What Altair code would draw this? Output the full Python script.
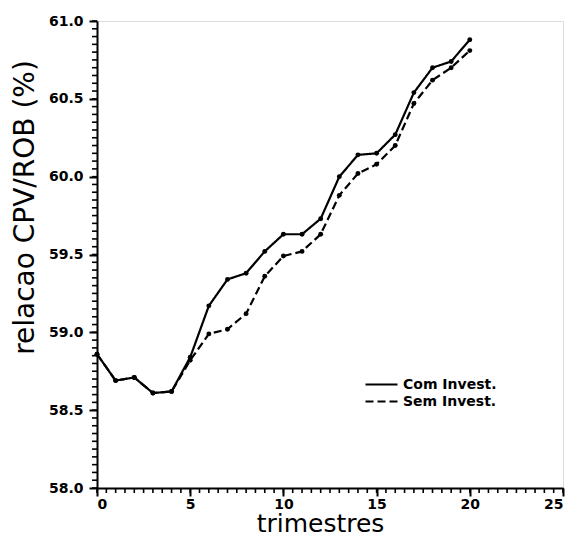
import altair as alt
import pandas as pd

trimestres = list(range(21))
com_invest = [58.86, 58.69, 58.71, 58.61, 58.62, 58.84, 59.17, 59.34, 59.38, 59.52,
              59.63, 59.63, 59.73, 60.00, 60.14, 60.15, 60.27, 60.54, 60.70, 60.74, 60.88]
sem_invest = [58.86, 58.69, 58.71, 58.61, 58.62, 58.82, 58.99, 59.02, 59.12, 59.36,
              59.49, 59.52, 59.63, 59.88, 60.02, 60.08, 60.20, 60.47, 60.62, 60.70, 60.81]
series_names = ["Com  Invest.", "Sem  Invest."]

x_major = [0, 5, 10, 15, 20, 25]
x_minor = [i * 0.5 for i in range(51)]
y_major = [58.0, 58.5, 59.0, 59.5, 60.0, 60.5, 61.0]
y_minor = [round(58 + i * 0.05, 2) for i in range(61)]

X_TITLE = "trimestres"
Y_TITLE = "relacao    CPV/ROB    (%)"

rows = []
for t, a, b in zip(trimestres, com_invest, sem_invest):
    rows.append({"t": t, "v": a, "s": series_names[0]})
    rows.append({"t": t, "v": b, "s": series_names[1]})
df = pd.DataFrame(rows)

FONT = "DejaVu Sans"

W, H = 466, 467
xscale = alt.Scale(domain=[0, 25], nice=False, zero=False)
yscale = alt.Scale(domain=[58, 61], nice=False, zero=False)

xaxis = alt.Axis(orient="bottom", values=x_major, format="d", ticks=True,
                 tickSize=8, tickWidth=2, tickColor="black", tickOpacity=1,
                 domainWidth=2, domainColor="black", zindex=1,
                 labelFont=FONT, labelFontWeight="bold", labelFontSize=14,
                 labelColor="black", labelPadding=1, grid=False,
                 titleFont=FONT, titleFontSize=25, titleFontWeight="normal",
                 titleColor="black", titleBaseline="alphabetic", titleX=223, titleY=43)
yaxis = alt.Axis(orient="left", values=y_major, format=".1f", ticks=True,
                 tickSize=8, tickWidth=2, tickColor="black", tickOpacity=1,
                 domainWidth=2, domainColor="black", zindex=1,
                 labelFont=FONT, labelFontWeight="bold", labelFontSize=14,
                 labelColor="black", labelPadding=6, grid=False,
                 titleFont=FONT, titleFontSize=28, titleFontWeight="normal",
                 titleColor="black", titlePadding=9, titleY=186)

base = alt.Chart(df)

lines = base.mark_line(color="black", strokeWidth=2.2).encode(
    x=alt.X("t:Q", scale=xscale, title=X_TITLE, axis=xaxis),
    y=alt.Y("v:Q", scale=yscale, title=Y_TITLE, axis=yaxis),
    strokeDash=alt.StrokeDash("s:N",
                              scale=alt.Scale(domain=series_names, range=[[1, 0], [8, 4]]),
                              legend=alt.Legend(title=None, orient="none", legendX=275,
                                                legendY=354, symbolType="M-2,0H2",
                                                symbolSize=256, symbolStrokeWidth=2.2,
                                                symbolStrokeColor="black",
                                                labelFont=FONT, labelFontWeight="bold",
                                                labelFontSize=14, labelColor="black",
                                                rowPadding=0, labelOffset=12)),
)

points = base.mark_circle(color="black", size=24, opacity=1).encode(
    x=alt.X("t:Q", scale=xscale, axis=None),
    y=alt.Y("v:Q", scale=yscale, axis=None),
    detail="s:N",
)


def xticks(vals, length, width):
    return alt.Chart(pd.DataFrame({"xm": vals})).mark_rule(
        color="black", strokeWidth=width, clip=False).encode(
        x=alt.X("xm:Q", scale=xscale, axis=None),
        y=alt.value(H),
        y2=alt.value(H + length),
    )


def yticks(vals, length, width):
    return alt.Chart(pd.DataFrame({"ym": vals})).mark_rule(
        color="black", strokeWidth=width, clip=False).encode(
        y=alt.Y("ym:Q", scale=yscale, axis=None),
        x=alt.value(-length),
        x2=alt.value(0),
    )


chart = alt.layer(
    lines, points,
    xticks(x_minor, 5, 1.6),
    yticks(y_minor, 5, 1.6),
).resolve_axis(x="independent", y="independent").properties(
    width=W, height=H,
    autosize=alt.AutoSizeParams(type="none"),
    padding={"left": 89, "top": 13, "right": 5, "bottom": 48},
).configure_view(stroke=None).configure(background="white")

chart.save("out.html", embed_options={"renderer": "svg", "actions": False})
